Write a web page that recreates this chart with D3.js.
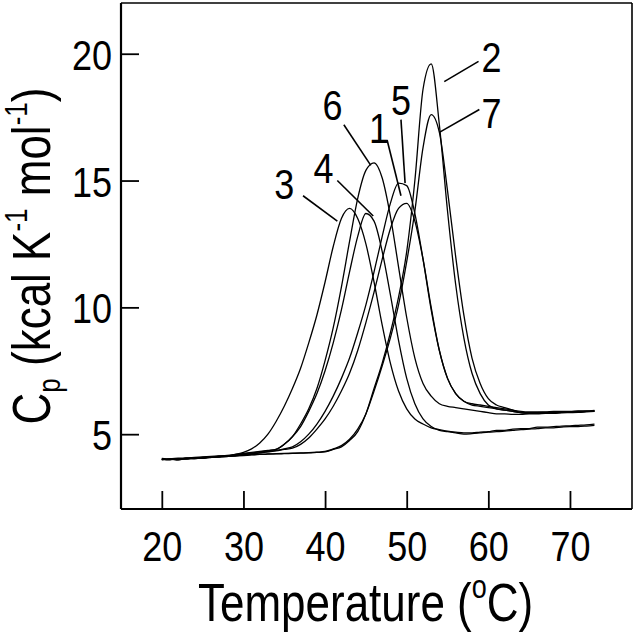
<!DOCTYPE html>
<html><head><meta charset="utf-8">
<script src="https://cdn.jsdelivr.net/npm/d3@7"></script>
<style>body{margin:0;background:#fff}svg{display:block}text{font-family:Arial,"Liberation Sans",Helvetica,sans-serif;fill:#000}</style>
</head><body><svg id="c" width="638" height="639"></svg>
<script>
const temps = [20,21,22,23,24,25,26,27,28,29,30,31,32,33,34,35,36,37,38,39,40,41,42,43,44,45,46,47,48,49,50,51,52,53,54,55,56,57,58,59,60,61,62,63,64,65,66,67,68,69,70,71,72,73];
const cp1 = [4.02,4.00,4.04,4.04,4.07,4.07,4.11,4.12,4.15,4.16,4.20,4.22,4.26,4.30,4.34,4.40,4.45,4.60,4.85,5.20,5.60,6.10,6.70,7.40,8.30,9.40,10.60,11.90,13.10,13.90,14.10,13.40,11.90,10.00,8.30,7.20,6.60,6.30,6.20,6.15,6.10,6.05,6.00,5.95,5.90,5.88,5.88,5.88,5.90,5.90,5.90,5.92,5.92,5.94];
const cp2 = [4.00,4.02,4.01,4.04,4.05,4.06,4.08,4.10,4.12,4.14,4.16,4.18,4.20,4.21,4.22,4.23,4.24,4.25,4.26,4.28,4.30,4.40,4.50,4.75,5.10,5.80,6.80,7.80,9.00,10.40,12.20,15.00,18.60,19.60,17.20,13.80,10.90,8.80,7.40,6.60,6.15,6.00,5.95,5.90,5.85,5.82,5.82,5.84,5.85,5.86,5.88,5.88,5.90,5.90];
const cp3 = [4.00,4.02,3.98,4.05,4.03,4.08,4.10,4.12,4.15,4.20,4.28,4.42,4.65,5.00,5.50,6.10,6.80,7.60,8.60,9.70,11.00,12.40,13.50,13.90,13.50,12.50,11.00,9.30,7.80,6.70,6.00,5.60,5.40,5.25,5.18,5.12,5.08,5.05,5.05,5.08,5.10,5.15,5.15,5.20,5.22,5.22,5.28,5.28,5.30,5.32,5.33,5.35,5.37,5.40];
const cp4 = [4.02,4.00,4.03,4.02,4.06,4.05,4.10,4.12,4.14,4.18,4.22,4.26,4.30,4.35,4.40,4.60,4.90,5.30,5.90,6.60,7.50,8.60,9.90,11.40,12.80,13.70,13.40,12.20,10.50,8.70,7.20,6.20,5.60,5.30,5.15,5.10,5.05,5.00,5.02,5.05,5.08,5.10,5.12,5.15,5.18,5.20,5.22,5.25,5.25,5.28,5.30,5.30,5.32,5.35];
const cp5 = [4.00,4.03,4.02,4.05,4.06,4.08,4.10,4.12,4.14,4.17,4.20,4.23,4.27,4.31,4.36,4.42,4.50,4.70,5.00,5.40,5.90,6.50,7.20,8.00,9.00,10.10,11.40,12.80,14.10,14.90,14.80,13.70,11.90,9.90,8.30,7.20,6.60,6.30,6.15,6.10,6.05,6.00,5.95,5.90,5.85,5.85,5.85,5.86,5.87,5.88,5.88,5.90,5.90,5.92];
const cp6 = [4.05,4.03,4.05,4.06,4.08,4.10,4.12,4.14,4.16,4.20,4.24,4.28,4.32,4.36,4.40,4.60,4.90,5.40,6.00,6.80,7.90,9.20,10.80,12.60,14.30,15.40,15.70,15.10,13.60,11.60,9.60,8.00,7.00,6.50,6.20,6.10,6.05,6.00,5.95,5.90,5.85,5.80,5.80,5.78,5.78,5.80,5.80,5.82,5.82,5.84,5.85,5.86,5.88,5.90];
const cp7 = [4.02,4.00,4.03,4.03,4.06,4.06,4.09,4.11,4.13,4.15,4.17,4.19,4.21,4.22,4.23,4.24,4.25,4.26,4.27,4.29,4.32,4.42,4.55,4.80,5.20,5.80,6.70,7.70,8.80,10.10,11.80,13.80,16.30,17.60,16.90,14.60,12.00,9.70,8.00,7.00,6.40,6.15,6.05,5.95,5.85,5.82,5.82,5.84,5.85,5.86,5.88,5.88,5.90,5.92];
const seriesValues = [cp1,cp2,cp3,cp4,cp5,cp6,cp7];
const xTicks = [20,30,40,50,60,70];
const yTicks = [5,10,15,20];
// curve labels: text, label centre (T, Cp), leader line start and end (T, Cp)
const labelNames = ["2","7","6","5","1","4","3"];
const labelPos = [[60.4,19.9],[60.4,17.7],[40.9,18.0],[49.3,18.2],[46.6,17.1],[39.8,15.5],[35.0,14.9]];
const leaderFrom = [[58.8,19.7],[58.9,17.8],[42.3,17.2],[49.3,17.4],[47.6,16.6],[41.5,15.0],[37.3,14.4]];
const leaderTo = [[54.6,18.9],[54.0,16.9],[45.6,15.6],[49.8,14.9],[49.3,14.4],[45.9,13.6],[41.5,13.4]];

const SY = 1.2;
const svg = d3.select("#c");
const L = 121, R = 632, T0 = 3, B = 509;
const x = d3.scaleLinear().domain([15, 77.6]).range([L, R]);
const y = d3.scaleLinear().domain([2.05, 22]).range([B, T0]);

// frame
svg.append("line").attr("x1",L).attr("x2",L).attr("y1",T0).attr("y2",B).attr("stroke","#000").attr("stroke-width",2.2);
svg.append("line").attr("x1",L).attr("x2",R).attr("y1",B).attr("y2",B).attr("stroke","#000").attr("stroke-width",2.2);
svg.append("line").attr("x1",L).attr("x2",R).attr("y1",T0).attr("y2",T0).attr("stroke","#000").attr("stroke-width",1.6);
svg.append("line").attr("x1",R).attr("x2",R).attr("y1",T0).attr("y2",B).attr("stroke","#000").attr("stroke-width",1.6);

const xAxis = svg.append("g").attr("transform",`translate(0,${B})`)
  .call(d3.axisBottom(x).tickValues(xTicks).tickSizeInner(-18).tickSizeOuter(0).tickPadding(0));
xAxis.select(".domain").remove();
xAxis.selectAll("line").attr("stroke","#000").attr("stroke-width",1.8);
xAxis.selectAll("text").attr("font-size",36).attr("y",0).attr("dy","0.36em")
  .attr("transform",`translate(0,36) scale(1,${SY})`);

const yAxis = svg.append("g").attr("transform",`translate(${L},0)`)
  .call(d3.axisLeft(y).tickValues(yTicks).tickSizeInner(-18).tickSizeOuter(0).tickPadding(0));
yAxis.select(".domain").remove();
yAxis.selectAll("line").attr("stroke","#000").attr("stroke-width",1.8);
yAxis.selectAll("text").attr("font-size",36).attr("x",-9).attr("dy","0.36em").attr("text-anchor","end")
  .attr("transform",`scale(1,${SY})`).attr("y",0);

// curves
const line = d3.line().x((d,i)=>x(temps[i])).y(d=>y(d)).curve(d3.curveMonotoneX);
svg.append("g").selectAll("path").data(seriesValues).join("path")
  .attr("d",d=>line(d)).attr("fill","none").attr("stroke","#000").attr("stroke-width",1.3);

// labels
const lg = svg.append("g");
labelNames.forEach((n,i)=>{
  lg.append("line").attr("x1",x(leaderFrom[i][0])).attr("y1",y(leaderFrom[i][1]))
    .attr("x2",x(leaderTo[i][0])).attr("y2",y(leaderTo[i][1])).attr("stroke","#000").attr("stroke-width",1.6);
  lg.append("text").attr("transform",`translate(${x(labelPos[i][0])},${y(labelPos[i][1])}) scale(1,${SY})`)
    .attr("text-anchor","middle").attr("dy","0.36em").attr("font-size",36).text(n);
});

// axis titles
const xt = svg.append("text").attr("transform",`translate(198,621) scale(1,${SY})`).attr("font-size",44);
xt.append("tspan").text("Temperature (");
xt.append("tspan").attr("font-size",27).attr("dy",-19).text("o");
xt.append("tspan").attr("dy",19).text("C)");

const yt = svg.append("text").attr("transform",`translate(50,256) rotate(-90) scale(1,${SY})`)
  .attr("text-anchor","middle").attr("font-size",44);
yt.append("tspan").text("C");
yt.append("tspan").attr("font-size",26).attr("dy",8).text("p");
yt.append("tspan").attr("dy",-8).text(" (kcal K");
yt.append("tspan").attr("font-size",26).attr("dy",-19).text("-1");
yt.append("tspan").attr("dy",19).text(" mol");
yt.append("tspan").attr("font-size",26).attr("dy",-19).text("-1");
yt.append("tspan").attr("dy",19).text(")");
</script></body></html>
